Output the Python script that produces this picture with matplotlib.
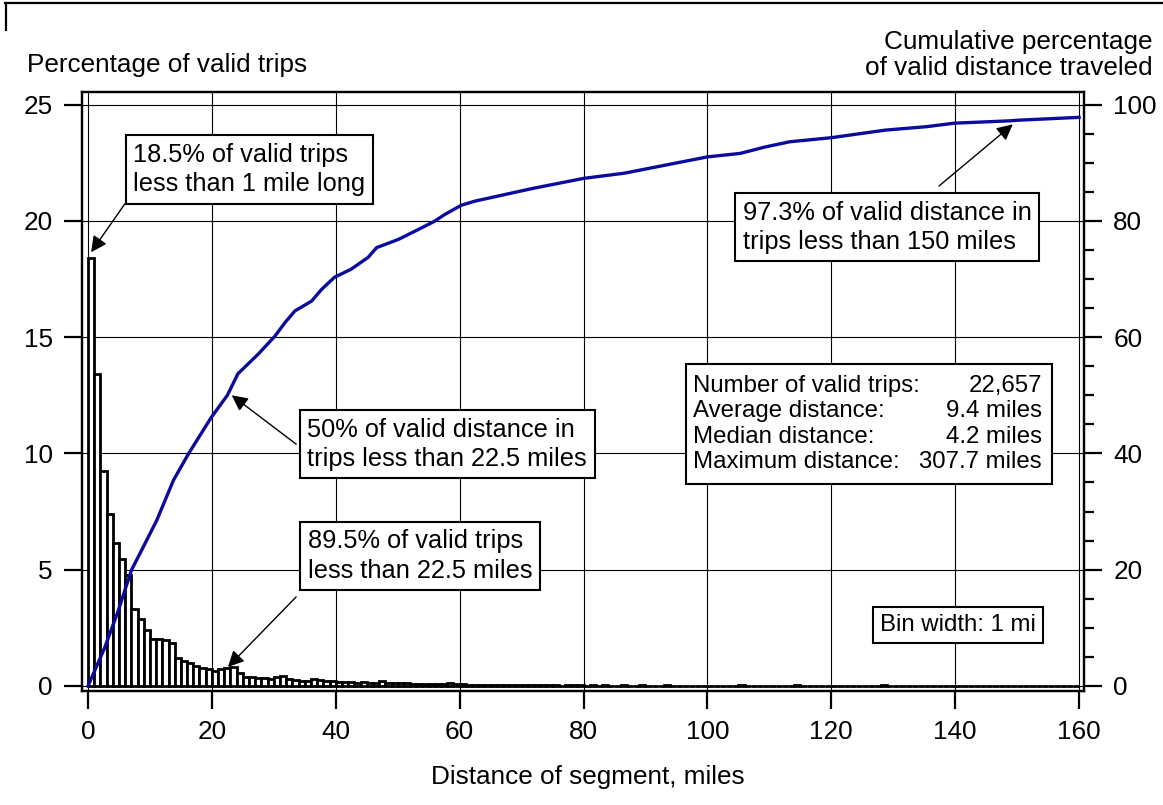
import matplotlib
matplotlib.use('Agg')
import matplotlib.pyplot as plt
from matplotlib.ticker import MultipleLocator
from matplotlib.lines import Line2D
from matplotlib.patches import Rectangle
import numpy as np

plt.rcParams['font.family'] = ['Liberation Sans', 'DejaVu Sans']

# ---------------- data ----------------
bin_left = list(range(0, 160))
trip_pct = [
    18.4, 13.4, 9.24, 7.41, 6.17, 5.48, 4.76, 3.29, 2.90, 2.40,
    2.00, 2.03, 1.97, 1.86, 1.19, 1.07, 1.00, 0.86, 0.79, 0.72,
    0.66, 0.73, 0.77, 0.80, 0.54, 0.40, 0.37, 0.36, 0.34, 0.31,
    0.37, 0.43, 0.31, 0.26, 0.23, 0.21, 0.31, 0.26, 0.21, 0.20,
    0.18, 0.17, 0.16, 0.15, 0.16, 0.14, 0.13, 0.22, 0.13, 0.12,
    0.11, 0.12, 0.10, 0.10, 0.09, 0.10, 0.08, 0.09, 0.12, 0.08,
    0.07, 0.06, 0.06, 0.05, 0.06, 0.05, 0.04, 0.05, 0.04, 0.04,
    0.04, 0.03, 0.05, 0.03, 0.03, 0.04, 0.02, 0.03, 0.05, 0.03,
    0.02, 0.03, 0.02, 0.04, 0.02, 0.01, 0.03, 0.02, 0.02, 0.03,
    0.02, 0.01, 0.02, 0.03, 0.01, 0.02, 0.02, 0.01, 0.02, 0.01,
    0.02, 0.01, 0.01, 0.02, 0.01, 0.03, 0.01, 0.01, 0.02, 0.01,
    0.01, 0.02, 0.01, 0.01, 0.04, 0.01, 0.01, 0.02, 0.01, 0.01,
    0.01, 0.02, 0.01, 0.01, 0.01, 0.02, 0.01, 0.01, 0.03, 0.01,
    0.01, 0.01, 0.02, 0.01, 0.01, 0.01, 0.02, 0.01, 0.01, 0.01,
    0.01, 0.01, 0.01, 0.02, 0.01, 0.01, 0.01, 0.01, 0.01, 0.02,
    0.01, 0.01, 0.01, 0.01, 0.01, 0.01, 0.02, 0.01, 0.01, 0.01,
]

cum_dist = [0, 2.7, 4.9, 7.0, 9.2, 11.1, 13.8, 16.2, 19.9, 22.5, 24.2,
            27.5, 30.2, 31.8, 33.4, 36.1, 37.7, 39.8, 42.5, 45.2, 46.6,
            50.1, 53.3, 55.9, 57.6, 60.3, 62.5, 67.2, 71.9, 80.0, 86.6,
            93.3, 100.0, 105.3, 109.3, 113.3, 120.0, 128.7, 135.4, 139.9,
            148.8, 150.0, 160.0]
cum_pct = [0, 6.6, 13.0, 19.9, 24.5, 28.5, 35.4, 39.9, 46.2, 50.0, 53.7,
           57.1, 60.2, 62.5, 64.5, 66.2, 68.2, 70.3, 71.7, 73.7, 75.4,
           76.8, 78.5, 79.9, 81.1, 82.7, 83.4, 84.5, 85.6, 87.3, 88.2,
           89.6, 91.0, 91.6, 92.7, 93.6, 94.3, 95.6, 96.2, 96.8,
           97.2, 97.3, 97.8]

x_ticks = [0, 20, 40, 60, 80, 100, 120, 140, 160]
y_ticks_left = [0, 5, 10, 15, 20, 25]
y_ticks_right = [0, 20, 40, 60, 80, 100]

stat_labels = ["Number of valid trips:", "Average distance:",
               "Median distance:", "Maximum distance:"]
stat_values = ["22,657", "9.4 miles", "4.2 miles", "307.7 miles"]

# ---------------- figure ----------------
W, H = 1163, 805
fig = plt.figure(figsize=(W / 100, H / 100), dpi=100)

l_px, r_px, t_px, b_px = 82, 1084, 92, 691
ax = fig.add_axes([l_px / W, 1 - b_px / H, (r_px - l_px) / W, (b_px - t_px) / H])
ax.set_xlim(-0.97, 160.8)
ax.set_ylim(-0.215, 25.54)
ax2 = ax.twinx()
ax2.set_ylim(-0.215 * 4, 25.54 * 4)

ax.set_axisbelow(True)
ax.set_xticks(x_ticks)
ax.set_yticks(y_ticks_left)
ax.grid(True, color='black', lw=0.8)

ax.bar(np.array(bin_left), trip_pct, width=1.0, align='edge',
       facecolor='white', edgecolor='black', linewidth=2.0, zorder=2)

ax2.plot(cum_dist, cum_pct, color='#0b0b9e', lw=2.4, zorder=3,
         solid_joinstyle='round')

FS = 18.8
for a in (ax, ax2):
    for s in a.spines.values():
        s.set_linewidth(1.6)
ax.tick_params(axis='both', direction='out', length=13, width=1.6, pad=8,
               labelsize=FS)
ax.tick_params(axis='y', right=False)
ax2.set_yticks(y_ticks_right)
ax2.yaxis.set_minor_locator(MultipleLocator(5))
ax2.tick_params(axis='y', which='major', direction='out', length=13,
                width=1.6, pad=8, labelsize=FS)
ax2.tick_params(axis='y', which='minor', direction='out', length=7, width=1.6)

# ---------------- labels ----------------
fig.text(27 / W, 1 - 72 / H, 'Percentage of valid trips', ha='left',
         va='baseline', fontsize=FS)
fig.text(1153 / W, 1 - 49 / H, 'Cumulative percentage', ha='right',
         va='baseline', fontsize=FS)
fig.text(1153 / W, 1 - 75 / H, 'of valid distance traveled', ha='right',
         va='baseline', fontsize=FS)
fig.text(588 / W, 1 - 784 / H, 'Distance of segment, miles', ha='center',
         va='baseline', fontsize=FS)

fig.add_artist(Line2D([5 / W, 1.0], [1 - 3 / H, 1 - 3 / H], color='black', lw=1.6))
fig.add_artist(Line2D([6 / W, 6 / W], [1 - 3 / H, 1 - 30 / H], color='black', lw=1.6))

# ---------------- annotations ----------------
tD = ax.transData
box = dict(boxstyle='square,pad=0.3', fc='white', ec='black', lw=1.5)
arrow = dict(arrowstyle='-|>', color='black', lw=1.0, mutation_scale=24,
             shrinkA=0, shrinkB=0)
AFS = 18.3
ALS = 1.27

ax2.text(7.3, 22.2, '18.5% of valid trips\nless than 1 mile long', transform=tD,
         ha='left', va='center', fontsize=AFS, bbox=box, linespacing=ALS, zorder=5)
ax2.annotate('', xy=(0.5, trip_pct[0] + 0.25), xytext=(6.0, 20.75),
             xycoords=tD, textcoords=tD, arrowprops=arrow, zorder=5)

ax2.text(105.7, 19.73, '97.3% of valid distance in\ntrips less than 150 miles',
         transform=tD, ha='left', va='center', fontsize=AFS, bbox=box,
         linespacing=ALS, zorder=5)
ax2.annotate('', xy=(149.3, 96.6), xytext=(137.4, 21.5 * 4),
             arrowprops=arrow, zorder=5)

ax2.text(35.4, 10.4, '50% of valid distance in\ntrips less than 22.5 miles',
         transform=tD, ha='left', va='center', fontsize=AFS, bbox=box,
         linespacing=ALS, zorder=5)
ax2.annotate('', xy=(23.2, 50.0), xytext=(33.6, 10.4 * 4),
             arrowprops=arrow, zorder=5)

ax2.text(35.5, 5.59, '89.5% of valid trips\nless than 22.5 miles',
         transform=tD, ha='left', va='center', fontsize=AFS, bbox=box,
         linespacing=ALS, zorder=5)
ax2.annotate('', xy=(22.6, trip_pct[22] + 0.05), xytext=(33.6, 3.83),
             xycoords=tD, textcoords=tD, arrowprops=arrow, zorder=5)

SFS = 17.3
ax2.add_patch(Rectangle((96.5, 8.68), 59.1, 5.16, transform=tD, fc='white',
                        ec='black', lw=1.5, zorder=5))
ax2.text(97.7, 11.26, '\n'.join(stat_labels), transform=tD, ha='left',
         va='center', fontsize=SFS, linespacing=1.2, zorder=6)
ax2.text(154.0, 11.26, '\n'.join(stat_values), transform=tD, ha='right',
         va='center', fontsize=SFS, linespacing=1.2, zorder=6,
         multialignment='right')

ax2.text(140.5, 2.62, 'Bin width: 1 mi', transform=tD, ha='center',
         va='center', fontsize=SFS, bbox=dict(boxstyle='square,pad=0.3',
                                              fc='white', ec='black', lw=1.5),
         zorder=6)

fig.savefig('out.png', dpi=100)
